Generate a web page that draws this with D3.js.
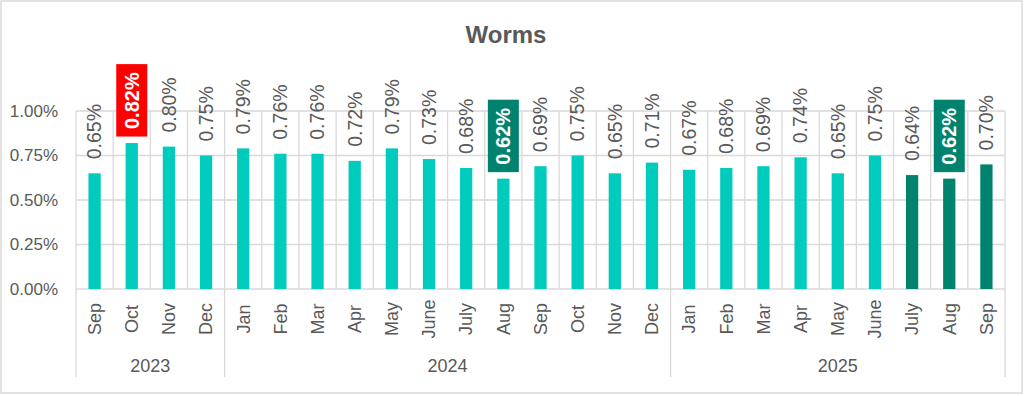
<!DOCTYPE html>
<html>
<head>
<meta charset="utf-8">
<script src="https://cdn.jsdelivr.net/npm/d3@7"></script>
<style>
  body { margin: 0; background: #fff; }
  text { font-family: "Liberation Sans", Arial, sans-serif; fill: #595959; }
</style>
</head>
<body>
<div id="chart"></div>
<script>

const title = "Worms";

const years = ["2023", "2024", "2025"];
const months = [
  ["Sep", "Oct", "Nov", "Dec"],
  ["Jan", "Feb", "Mar", "Apr", "May", "June", "July", "Aug", "Sep", "Oct", "Nov", "Dec"],
  ["Jan", "Feb", "Mar", "Apr", "May", "June", "July", "Aug", "Sep"]
];
const values = [
  [0.65, 0.82, 0.80, 0.75],
  [0.79, 0.76, 0.76, 0.72, 0.79, 0.73, 0.68, 0.62, 0.69, 0.75, 0.65, 0.71],
  [0.67, 0.68, 0.69, 0.74, 0.65, 0.75, 0.64, 0.62, 0.70]
];
const yTicks = [0, 0.25, 0.5, 0.75, 1.0];

// which points get a boxed label, and which bars are the recent months
const highLabels = ["2023 Oct"];
const lowLabels = ["2024 Aug", "2025 Aug"];
const recentBars = ["2025 July", "2025 Aug", "2025 Sep"];

const width = 1024;
const height = 396;
const plot = { left: 76, right: 1005, top: 111, bottom: 289 };

const teal = "#00ccbe";
const darkGreen = "#00836e";
const red = "#ff0000";
const gridColor = "#d9d9d9";

// flatten into one row per month
const rows = [];
years.forEach((yr, i) => {
  months[i].forEach((m, j) => {
    rows.push({ key: yr + " " + m, year: yr, month: m, value: values[i][j] });
  });
});

const svg = d3.select("#chart").append("svg")
  .attr("width", width)
  .attr("height", height);

svg.append("rect")
  .attr("x", 1).attr("y", 1)
  .attr("width", width - 3).attr("height", height - 4)
  .attr("fill", "#fff")
  .attr("stroke", gridColor)
  .attr("stroke-width", 1.5);

const x = d3.scaleBand()
  .domain(rows.map(d => d.key))
  .range([plot.left, plot.right])
  .paddingInner(0.67)
  .paddingOuter(0.335);

const y = d3.scaleLinear()
  .domain([0, 1])
  .range([plot.bottom, plot.top]);

const step = x.step();
const center = k => x(k) + x.bandwidth() / 2;

// Title

svg.append("text")
  .attr("x", 506)
  .attr("y", 43)
  .attr("text-anchor", "middle")
  .style("font-size", "24px")
  .style("font-weight", "bold")
  .text(title);

// Grid

const grid = svg.append("g").attr("stroke", gridColor).attr("stroke-width", 1.3);

grid.selectAll(".hgrid")
  .data(yTicks)
  .join("line")
  .attr("x1", plot.left).attr("x2", plot.right)
  .attr("y1", d => y(d)).attr("y2", d => y(d));

const edges = rows.map(d => center(d.key) - step / 2).concat([plot.right]);

grid.selectAll(".vgrid")
  .data(edges)
  .join("line")
  .attr("x1", d => d).attr("x2", d => d)
  .attr("y1", plot.top).attr("y2", plot.bottom);

// year separators below the axis
const yearEdges = [];
let n = 0;
years.forEach((yr, i) => {
  yearEdges.push({ year: yr, from: edges[n], to: edges[n + months[i].length] });
  n += months[i].length;
});

grid.selectAll(".ysep")
  .data(edges.filter((e, i) => i === 0 || yearEdges.some(d => d.to === e)))
  .join("line")
  .attr("x1", d => d).attr("x2", d => d)
  .attr("y1", plot.bottom).attr("y2", 377);

// Y axis

const yAxis = svg.append("g")
  .attr("transform", `translate(${plot.left},0)`)
  .call(d3.axisLeft(y)
    .tickValues(yTicks)
    .tickSize(0)
    .tickPadding(18)
    .tickFormat(d => d3.format(".2f")(d) + "%"));

yAxis.select(".domain").remove();
yAxis.selectAll("text")
  .style("font-size", "17px")
  .style("fill", "#595959")
  .style("font-family", "'Liberation Sans', Arial, sans-serif");

// X axis: months then years

svg.append("g")
  .selectAll("text")
  .data(rows)
  .join("text")
  .attr("transform", d => `translate(${center(d.key)},319) rotate(-90)`)
  .attr("text-anchor", "middle")
  .attr("dy", "0.35em")
  .style("font-size", "18px")
  .text(d => d.month);

svg.append("g")
  .selectAll("text")
  .data(yearEdges)
  .join("text")
  .attr("x", d => (d.from + d.to) / 2)
  .attr("y", 372)
  .attr("text-anchor", "middle")
  .style("font-size", "18px")
  .text(d => d.year);

// Bars

svg.append("g")
  .selectAll("rect")
  .data(rows)
  .join("rect")
  .attr("x", d => x(d.key))
  .attr("y", d => y(d.value))
  .attr("width", x.bandwidth())
  .attr("height", d => y(0) - y(d.value))
  .attr("fill", d => recentBars.includes(d.key) ? darkGreen : teal);

// Labels

const labels = svg.append("g")
  .selectAll("g")
  .data(rows)
  .join("g")
  .attr("transform", d => `translate(${center(d.key)},${y(d.value) - 14}) rotate(-90)`);

labels.each(function (d) {
  const g = d3.select(this);
  const boxed = highLabels.includes(d.key) || lowLabels.includes(d.key);
  const txt = g.append("text")
    .attr("dy", "0.35em")
    .style("font-size", boxed ? "20px" : "19.5px")
    .style("font-weight", boxed ? "bold" : "normal")
    .style("fill", boxed ? "#fff" : "#595959")
    .text(d3.format(".2f")(d.value) + "%");
  if (boxed) {
    const bb = txt.node().getBBox();
    g.insert("rect", "text")
      .attr("x", -7.5)
      .attr("y", -15.5)
      .attr("width", bb.width + 15.5)
      .attr("height", 31)
      .attr("fill", highLabels.includes(d.key) ? red : darkGreen);
  }
});

</script>
</body>
</html>
